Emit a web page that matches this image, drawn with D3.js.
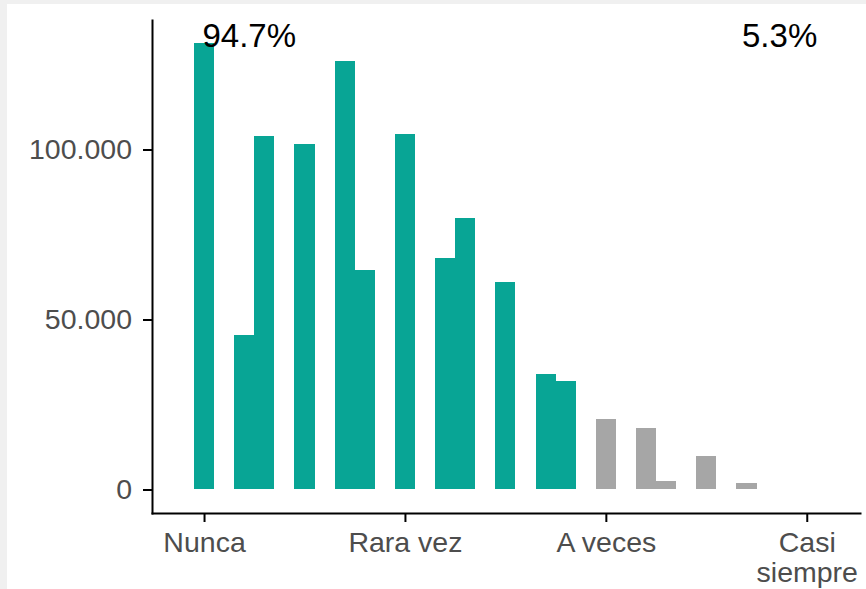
<!DOCTYPE html>
<meta charset="utf-8">
<style>
  body { margin: 0; background: #fff; }
  svg { font-family: "Liberation Sans", Arial, sans-serif; }
  .axis text { fill: #4d4d4d; font-size: 28.5px; }
  .axis line, .axis path { stroke: #000; stroke-width: 2px; }
</style>
<body></body>
<script src="https://cdn.jsdelivr.net/npm/d3@7"></script>
<script>
  // bin centres (mean score, bins of width 0.1) and counts
  var bins = [1.0, 1.2, 1.3, 1.5, 1.7, 1.8, 2.0, 2.2, 2.3, 2.5, 2.7, 2.8, 3.0, 3.2, 3.3, 3.5, 3.7];
  var counts = [131400, 45400, 104000, 101500, 126000, 64600, 104500, 68000, 79800, 61000, 33900, 31900, 20700, 18100, 2500, 9800, 1800];
  var binWidth = 0.1;
  var cutoff = 3; // bins from here on are grey

  var catValues = [1, 2, 3, 4];
  var catLabels = ["Nunca", "Rara vez", "A veces", "Casi siempre"];
  var yTicks = [0, 50000, 100000];

  var pctLabels = ["94.7%", "5.3%"];
  var pctX = [1.225, 3.865];
  var pctY = 130000;

  var width = 866, height = 589;
  var panel = { left: 152, right: 860, top: 20, bottom: 513 };

  var svg = d3.select("body").append("svg")
    .attr("width", width)
    .attr("height", height);

  // light grey frame of the screenshot
  svg.append("rect").attr("width", width).attr("height", height).attr("fill", "#f0f0f0");
  svg.append("rect").attr("x", 7).attr("y", 4).attr("width", width - 7).attr("height", height - 4).attr("fill", "#fff");

  var x = d3.scaleLinear().domain([0.741, 4.265]).range([panel.left, panel.right]);
  var y = d3.scaleLinear().domain([-6912, 138088]).range([panel.bottom, panel.top]);

  var data = bins.map(function(b, i) { return { bin: b, n: counts[i] }; });

  svg.append("g")
    .attr("shape-rendering", "crispEdges")
    .selectAll("rect")
    .data(data)
    .enter().append("rect")
    .attr("x", function(d) { return x(d.bin - binWidth / 2); })
    .attr("width", function(d) { return x(d.bin + binWidth / 2) - x(d.bin - binWidth / 2); })
    .attr("y", function(d) { return y(d.n); })
    .attr("height", function(d) { return y(0) - y(d.n); })
    .attr("fill", function(d) { return d.bin >= cutoff ? "#a6a6a6" : "#08a595"; });

  var yAxis = d3.axisLeft(y)
    .tickValues(yTicks)
    .tickSize(9)
    .tickSizeOuter(0)
    .tickPadding(11)
    .tickFormat(function(d) { return d3.format(",")(d).replace(/,/g, "."); });

  svg.append("g")
    .attr("class", "axis")
    .attr("transform", "translate(" + panel.left + ",0)")
    .call(yAxis)
    .attr("font-family", null);

  var xAxis = d3.axisBottom(x)
    .tickValues(catValues)
    .tickSize(9)
    .tickSizeOuter(0)
    .tickPadding(10)
    .tickFormat(function(d, i) { return catLabels[i]; });

  var gx = svg.append("g")
    .attr("class", "axis")
    .attr("transform", "translate(0," + panel.bottom + ")")
    .call(xAxis)
    .attr("font-family", null);

  // wrap "Casi siempre" on two lines
  gx.selectAll(".tick text").each(function(d, i) {
    var t = d3.select(this), words = catLabels[i].split(" ");
    if (i === 3) {
      t.text(null);
      words.forEach(function(w, j) {
        t.append("tspan").attr("x", 0).attr("dy", j === 0 ? "0.71em" : "30px").text(w);
      });
    }
  });

  svg.selectAll("path.domain").attr("stroke-linecap", "square");

  svg.append("g").selectAll("text")
    .data(pctLabels)
    .enter().append("text")
    .attr("x", function(d, i) { return x(pctX[i]); })
    .attr("y", y(pctY))
    .attr("text-anchor", "middle")
    .attr("font-size", 33)
    .attr("fill", "#000")
    .text(function(d) { return d; });
</script>
